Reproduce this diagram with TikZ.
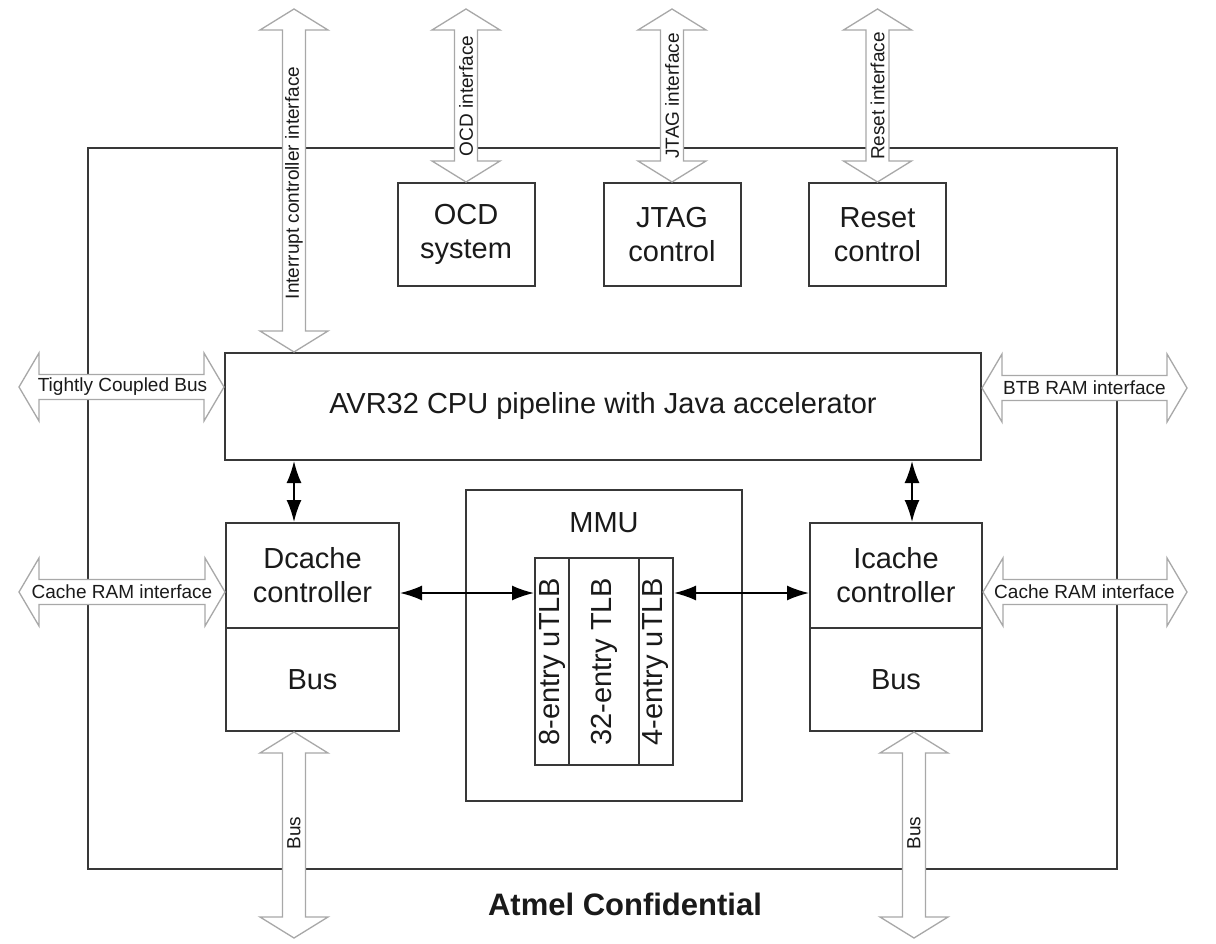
\documentclass[tikz,border=0pt]{standalone}
\usepackage{fontspec}
\usepackage{graphicx}
\setmainfont{Liberation Sans}
\usetikzlibrary{calc,arrows.meta}
\definecolor{boxcol}{HTML}{383838}
\definecolor{widecol}{HTML}{A8A8A8}
\definecolor{txtcol}{HTML}{1A1A1A}
\newcommand{\bigf}{\fontsize{29}{34}\selectfont}
\newcommand{\smallf}{\fontsize{19}{22}\selectfont}
\newcommand{\hwide}[2]{%
  \draw[wide] let \p1=(#1), \p2=(#2) in
    (\x1,\y1) -- (\x1+20pt,\y1+34pt) -- (\x1+20pt,\y1+12.5pt) -- (\x2-20pt,\y1+12.5pt) --
    (\x2-20pt,\y1+34pt) -- (\x2,\y1) -- (\x2-20pt,\y1-34pt) -- (\x2-20pt,\y1-12.5pt) --
    (\x1+20pt,\y1-12.5pt) -- (\x1+20pt,\y1-34pt) -- cycle;}
\newcommand{\vwide}[2]{%
  \draw[wide] let \p1=(#1), \p2=(#2) in
    (\x1,\y1) -- (\x1+34pt,\y1-21pt) -- (\x1+11.5pt,\y1-21pt) -- (\x1+11.5pt,\y2+21pt) --
    (\x1+34pt,\y2+21pt) -- (\x1,\y2) -- (\x1-34pt,\y2+21pt) -- (\x1-11.5pt,\y2+21pt) --
    (\x1-11.5pt,\y1-21pt) -- (\x1-34pt,\y1-21pt) -- cycle;}
\begin{document}
\begin{tikzpicture}[x=1pt,y=-1pt,
  box/.style={draw=boxcol, line width=2pt, fill=white, inner sep=0pt, align=center,
    font=\bigf, text=txtcol},
  wide/.style={draw=widecol, line width=1.3pt, fill=white, line join=miter},
  conn/.style={line width=1.8pt, black,
    {Latex[length=22pt,width=15pt]}-{Latex[length=22pt,width=15pt]}},
  lab/.style={font=\smallf, text=txtcol, inner sep=0pt},
  txt/.style={font=\bigf, text=txtcol, inner sep=0pt}]
\useasboundingbox (0,0) rectangle (1216,944);
\fill[white] (0,0) rectangle (1216,944);

% chip outline
\node[draw=boxcol, line width=2pt, minimum width=1029pt, minimum height=721pt, inner sep=0pt]
  (chip) at (602.5,508.5) {};

% boxes
\node[box, minimum width=137pt, minimum height=103pt] (ocd) at (466,234.5) {OCD\\system};
\node[box, minimum width=137pt, minimum height=103pt] (jtag) at (672,234.5) {JTAG\\control};
\node[box, minimum width=137pt, minimum height=103pt] (rst) at (877.5,234.5) {Reset\\control};
\node[box, minimum width=756pt, minimum height=107pt] (cpu) at (603,406.5)
  {AVR32 CPU pipeline with Java accelerator};
\node[box, minimum width=173pt, minimum height=105pt] (dctop) at (312.5,575.5) {Dcache\\controller};
\node[box, minimum width=173pt, minimum height=103pt] (dcbus) at (312.5,679.5) {Bus};
\node[box, minimum width=172pt, minimum height=105pt] (ictop) at (896,575.5) {Icache\\controller};
\node[box, minimum width=172pt, minimum height=103pt] (icbus) at (896,679.5) {Bus};
\node[box, minimum width=276pt, minimum height=311pt] (mmu) at (604,645.5) {};
\node[txt] (mmulab) at (604,523) {MMU};
\node[box, minimum width=34pt, minimum height=207pt] (tlb8) at (552,661.5) {\rotatebox{90}{8-entry uTLB}};
\node[box, minimum width=70pt, minimum height=207pt] (tlb32) at (604,661.5) {\rotatebox{90}{32-entry TLB}};
\node[box, minimum width=34pt, minimum height=207pt] (tlb4) at (656,661.5) {\rotatebox{90}{4-entry uTLB}};

% free ends of wide arrows
\coordinate (int-top) at (294,9);
\coordinate (ocd-top) at (466,9);
\coordinate (jtag-top) at (672,9);
\coordinate (rst-top) at (877.5,9);
\coordinate (tcb-l) at (19,387);
\coordinate (crl-l) at (19,592);
\coordinate (btb-r) at (1187,388);
\coordinate (crr-r) at (1187,592);
\coordinate (busl-bot) at (294,938);
\coordinate (busr-bot) at (914,938);

% wide arrows
\vwide{int-top}{cpu.north -| int-top}
\vwide{ocd-top}{ocd.north}
\vwide{jtag-top}{jtag.north}
\vwide{rst-top}{rst.north}
\hwide{tcb-l}{cpu.west |- tcb-l}
\hwide{crl-l}{dctop.west |- crl-l}
\hwide{cpu.east |- btb-r}{btb-r}
\hwide{ictop.east |- crr-r}{crr-r}
\vwide{dcbus.south -| busl-bot}{busl-bot}
\vwide{icbus.south -| busr-bot}{busr-bot}

% wide arrow labels
\node[lab, rotate=90] (intlab) at (294,183) {Interrupt controller interface};
\node[lab, rotate=90] (ocdlab) at (466,96) {OCD interface};
\node[lab, rotate=90] (jtaglab) at (672,96) {JTAG interface};
\node[lab, rotate=90] (rstlab) at (877.5,96) {Reset interface};
\node[lab] (tcblab) at (122.5,387) {Tightly Coupled Bus};
\node[lab] (crllab) at (122,592) {Cache RAM interface};
\node[lab] (btblab) at (1084.5,388) {BTB RAM interface};
\node[lab] (crrlab) at (1084.5,592) {Cache RAM interface};
\node[lab, rotate=90] (buslab) at (294,833) {Bus};
\node[lab, rotate=90] (busrlab) at (914,833) {Bus};

% black connectors
\coordinate (rx) at (912,0);
\coordinate (my) at (0,593);
\draw[conn] (cpu.south -| int-top) -- (dctop.north -| int-top);
\draw[conn] (cpu.south -| rx) -- (ictop.north -| rx);
\draw[conn] (dctop.east |- my) -- (tlb8.west |- my);
\draw[conn] (ictop.west |- my) -- (tlb4.east |- my);

% footer
\node[font=\fontsize{31}{36}\selectfont\bfseries, text=txtcol, inner sep=0pt, anchor=base]
  (conf) at (625,915) {Atmel Confidential};
\end{tikzpicture}
\end{document}
